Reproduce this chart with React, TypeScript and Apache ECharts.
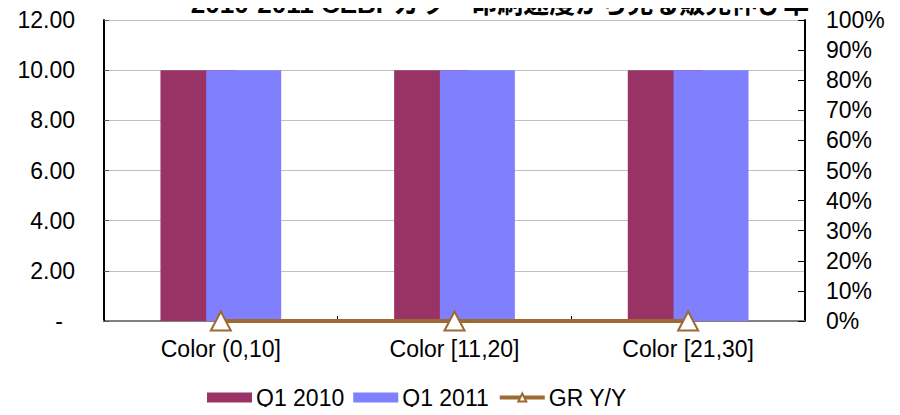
import React, { useEffect, useRef } from "react";
import * as echarts from "echarts";

const titleText = "2010-2011 CEBPカラー印刷速度から見る販売伸び率";
const categories = ["Color (0,10]", "Color [11,20]", "Color [21,30]"];
const q1_2010 = [10, 10, 10];
const q1_2011 = [10, 10, 10];
const grYY = [0, 0, 0];

const FONT = "'Liberation Sans', Arial, 'Noto Sans CJK JP', sans-serif";
const FS = 23;

export default function App() {
  const ref = useRef<HTMLDivElement>(null);
  useEffect(() => {
    if (!ref.current) return;
    const chart = echarts.init(ref.current, null, { renderer: "svg" });
    chart.setOption({
      animation: false,
      backgroundColor: "#ffffff",
      textStyle: { fontFamily: FONT },
      title: {
        text: titleText,
        left: 495,
        textAlign: "center",
        top: -14,
        textStyle: { fontFamily: FONT, fontSize: 26, fontWeight: "bold", color: "#000" },
      },
      grid: { left: 104, right: 95, top: 20, bottom: 94, containLabel: false },
      legend: {
        top: 386,
        left: 207,
        padding: 0,
        itemGap: 9,
        itemWidth: 45,
        itemHeight: 10,
        textStyle: { fontFamily: FONT, fontSize: FS, color: "#000", padding: [0, 0, 0, -1] },
        data: [
          { name: "Q1 2010", icon: "rect" },
          { name: "Q1 2011", icon: "rect" },
          { name: "GR Y/Y", lineStyle: { width: 4, color: "#9c6a32" } },
        ],
      },
      xAxis: [
        {
          type: "category",
          data: categories,
          axisLine: { lineStyle: { color: "#000", width: 2 } },
          axisTick: { show: true, inside: true, length: 5, lineStyle: { color: "#000" } },
          axisLabel: { fontFamily: FONT, fontSize: FS, color: "#000", margin: 16 },
          splitLine: { show: false },
        },
        {
          type: "category",
          position: "top",
          data: categories,
          axisLine: { show: true, lineStyle: { color: "#808080", width: 2 } },
          axisTick: { show: false },
          axisLabel: { show: false },
        },
      ],
      yAxis: [
        {
          type: "value",
          min: 0,
          max: 12,
          interval: 2,
          axisLine: { show: true, lineStyle: { color: "#000", width: 2 } },
          axisTick: { show: true, inside: true, length: 5, lineStyle: { color: "#555" } },
          splitLine: { show: true, lineStyle: { color: "#c0c0c0", width: 1 } },
          axisLabel: {
            fontFamily: FONT,
            fontSize: FS,
            color: "#000",
            margin: 29,
            formatter: (v: number) => (v === 0 ? "{d|-}" : v.toFixed(2)),
            rich: { d: { fontFamily: FONT, fontSize: FS, color: "#000", padding: [0, 12, 0, 0] } },
          },
        },
        {
          type: "value",
          min: 0,
          max: 1,
          interval: 0.1,
          position: "right",
          axisLine: { show: true, lineStyle: { color: "#000", width: 2 } },
          axisTick: { show: true, inside: true, length: 7, lineStyle: { color: "#000" } },
          splitLine: { show: false },
          axisLabel: {
            fontFamily: FONT,
            fontSize: FS,
            color: "#000",
            margin: 21,
            formatter: (v: number) => Math.round(v * 100) + "%",
          },
        },
      ],
      series: [
        {
          name: "Q1 2010",
          type: "bar",
          data: q1_2010,
          barWidth: 75,
          barGap: "-39%",
          itemStyle: { color: "#993366" },
        },
        {
          name: "Q1 2011",
          type: "bar",
          data: q1_2011,
          barWidth: 75,
          itemStyle: { color: "#8080ff" },
        },
        {
          name: "GR Y/Y",
          type: "line",
          yAxisIndex: 1,
          data: grYY,
          symbol: "triangle",
          symbolSize: [20, 19],
          lineStyle: { color: "#9c6a32", width: 4 },
          itemStyle: { color: "#ffffff", borderColor: "#9c6a32", borderWidth: 2 },
          z: 5,
        },
      ],
    });
    return () => chart.dispose();
  }, []);
  return <div ref={ref} style={{ width: 900, height: 415, margin: -8 }} />;
}
